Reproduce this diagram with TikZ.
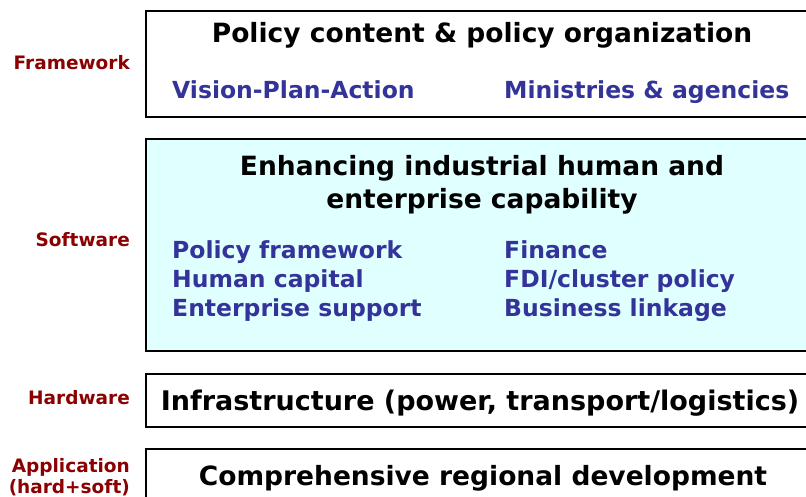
\documentclass[tikz,border=0pt]{standalone}
\usepackage{fontspec}
\setmainfont{DejaVu Sans}
\definecolor{lblred}{HTML}{8B0000}
\definecolor{itemblue}{HTML}{333399}
\definecolor{softfill}{HTML}{E0FFFF}
\begin{document}
\begin{tikzpicture}[x=1pt,y=-1pt,
  layer/.style={draw=black,line width=1.6pt},
  side/.style={anchor=base east,text=lblred,font=\bfseries\fontsize{18.5}{21}\selectfont,inner sep=0pt},
  head/.style={anchor=base,text=black,font=\bfseries\fontsize{26.5}{32}\selectfont,inner sep=0pt},
  item/.style={anchor=base west,text=itemblue,font=\bfseries\fontsize{23.5}{29}\selectfont,inner sep=0pt}]
\useasboundingbox (0,0) rectangle (806,496);
\begin{scope}
\clip (0,0) rectangle (806,496);
\draw[layer] (146,11) rectangle (830,117);
\draw[layer,fill=softfill] (146,139) rectangle (830,351);
\draw[layer] (146,374) rectangle (830,427);
\draw[layer] (146,449) rectangle (830,510);
\end{scope}
\node[side] (fw) at (130,69) {Framework};
\node[side] (sw) at (130,246) {Software};
\node[side] (hw) at (130,404) {Hardware};
\node[side] (ap1) at (130,472) {Application};
\node[side] (ap2) at (130,493) {(hard+soft)};
\node[head] (t1) at (482,42.5) {Policy content \& policy organization};
\node[item] (vpa) at (172,98.5) {Vision-Plan-Action};
\node[item] (min) at (504,98.5) {Ministries \& agencies};
\node[head] (t2a) at (482,175) {Enhancing industrial human and};
\node[head] (t2b) at (482,208) {enterprise capability};
\node[item] (l1) at (172,258.5) {Policy framework};
\node[item] (l2) at (172,287) {Human capital};
\node[item] (l3) at (172,316) {Enterprise support};
\node[item] (r1) at (504,258.5) {Finance};
\node[item] (r2) at (504,287) {FDI/cluster policy};
\node[item] (r3) at (504,316) {Business linkage};
\node[head,font=\bfseries\fontsize{27}{32}\selectfont] (t3) at (480,410) {Infrastructure (power, transport/logistics)};
\node[head] (t4) at (483,485) {Comprehensive regional development};
\end{tikzpicture}
\end{document}
